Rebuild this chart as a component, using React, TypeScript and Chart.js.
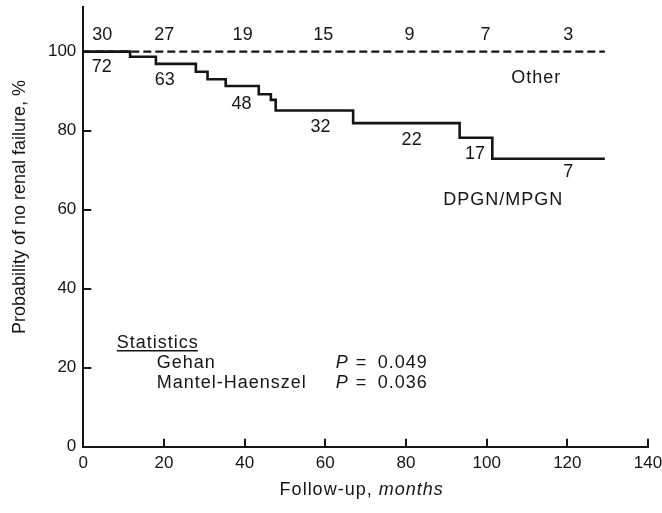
import React, { useEffect, useRef } from 'react';
import { Chart, registerables } from 'chart.js';

Chart.register(...registerables);

// Kaplan-Meier step curve for DPGN/MPGN (months, % without renal failure)
const dpgnMonths = [0, 11.6, 18.0, 27.9, 30.8, 35.3, 43.5, 46.5, 47.7, 66.9, 93.3, 101.4, 129.3];
const dpgnSurvival = [100, 98.7, 96.9, 94.9, 93.0, 91.3, 89.2, 87.8, 85.1, 81.9, 78.2, 72.9, 72.9];

// "Other" group: no events
const otherMonths = [0, 129.3];
const otherSurvival = [100, 100];

// Numbers at risk, Other (above the dashed line)
const riskOther = ['30', '27', '19', '15', '9', '7', '3'];
const riskOtherMonths = [4.7, 20.1, 39.5, 59.5, 80.9, 99.7, 120.2];
const riskOtherLevel = [104.1, 104.1, 104.1, 104.1, 104.1, 104.1, 104.1];

// Numbers at risk, DPGN/MPGN (below the solid line)
const riskDpgn = ['72', '63', '48', '32', '22', '17', '7'];
const riskDpgnMonths = [4.6, 20.2, 39.2, 58.8, 81.4, 97.1, 120.2];
const riskDpgnLevel = [96.2, 92.8, 86.7, 80.8, 77.7, 74.1, 69.4];

// Series labels
const seriesNames = ['Other', 'DPGN/MPGN'];
const seriesNameMonths = [112.3, 104.1];
const seriesNameLevel = [93.3, 62.5];

// Statistics
const statHeading = 'Statistics';
const statTests = ['Gehan', 'Mantel-Haenszel'];
const statPValues = ['0.049', '0.036'];

const xTitleNormal = 'Follow-up, ';
const xTitleItalic = 'months';
const yTitle = 'Probability of no renal failure, %';

const X_MIN = 0;
const X_MAX = 140;
const X_STEP = 20;
const Y_MIN = 0;
const Y_MAX = 111.3;
const Y_STEP = 20;

const FONT = '"Liberation Sans", Arial, Helvetica, sans-serif';
const INK = '#151515';

const annotations = {
  id: 'annotations',
  afterDraw(chart: any) {
    const ctx = chart.ctx as CanvasRenderingContext2D;
    const xs = chart.scales.x;
    const ys = chart.scales.y;
    const area = chart.chartArea;
    ctx.save();
    ctx.fillStyle = INK;
    ctx.strokeStyle = INK;
    ctx.textBaseline = 'middle';

    // numbers at risk
    ctx.font = `18px ${FONT}`;
    ctx.textAlign = 'center';
    riskOther.forEach((t, i) => {
      ctx.fillText(t, xs.getPixelForValue(riskOtherMonths[i]), ys.getPixelForValue(riskOtherLevel[i]));
    });
    riskDpgn.forEach((t, i) => {
      ctx.fillText(t, xs.getPixelForValue(riskDpgnMonths[i]), ys.getPixelForValue(riskDpgnLevel[i]));
    });

    // series names
    (ctx as any).letterSpacing = '1px';
    seriesNames.forEach((t, i) => {
      ctx.fillText(t, xs.getPixelForValue(seriesNameMonths[i]), ys.getPixelForValue(seriesNameLevel[i]));
    });

    // statistics block
    ctx.textAlign = 'left';
    const hx = xs.getPixelForValue(8.3);
    const hy = ys.getPixelForValue(26.3);
    ctx.fillText(statHeading, hx, hy);
    const hw = ctx.measureText(statHeading).width;
    ctx.lineWidth = 1.5;
    ctx.beginPath();
    ctx.moveTo(hx, hy + 8);
    ctx.lineTo(hx + hw - 1, hy + 8);
    ctx.stroke();
    const statLevels = [21.1, 16.1];
    statTests.forEach((t, i) => {
      const yy = ys.getPixelForValue(statLevels[i]);
      ctx.font = `18px ${FONT}`;
      ctx.fillText(t, xs.getPixelForValue(18.2), yy);
      const px = xs.getPixelForValue(62.6);
      ctx.font = `italic 18px ${FONT}`;
      ctx.fillText('P', px, yy);
      ctx.font = `18px ${FONT}`;
      ctx.fillText('=', px + 20, yy);
      ctx.fillText(statPValues[i], px + 42, yy);
    });

    // x title
    ctx.font = `18px ${FONT}`;
    const w1 = ctx.measureText(xTitleNormal).width;
    ctx.font = `italic 18px ${FONT}`;
    const w2 = ctx.measureText(xTitleItalic).width;
    const cx = (area.left + area.right) / 2 - 4;
    const sx = cx - (w1 + w2) / 2;
    ctx.font = `18px ${FONT}`;
    ctx.fillText(xTitleNormal, sx, 490);
    ctx.font = `italic 18px ${FONT}`;
    ctx.fillText(xTitleItalic, sx + w1, 490);

    // y title
    ctx.font = `18px ${FONT}`;
    (ctx as any).letterSpacing = '0px';
    ctx.textAlign = 'center';
    ctx.textBaseline = 'alphabetic';
    ctx.translate(25, 207);
    ctx.rotate(-Math.PI / 2);
    ctx.fillText(yTitle, 0, 0);
    ctx.restore();
  },
};

export default function App() {
  const ref = useRef<HTMLCanvasElement | null>(null);

  useEffect(() => {
    if (!ref.current) return;
    const chart = new Chart(ref.current, {
      type: 'line',
      data: {
        datasets: [
          {
            label: 'Other',
            data: otherMonths.map((m, i) => ({ x: m, y: otherSurvival[i] })),
            borderColor: INK,
            borderWidth: 2.4,
            borderDash: [8, 4],
            pointRadius: 0,
            fill: false,
          },
          {
            label: 'DPGN/MPGN',
            data: dpgnMonths.map((m, i) => ({ x: m, y: dpgnSurvival[i] })),
            borderColor: INK,
            borderWidth: 2.6,
            stepped: true,
            pointRadius: 0,
            fill: false,
          },
        ],
      },
      options: {
        animation: false,
        responsive: false,
        maintainAspectRatio: false,
        layout: { padding: { top: 7, right: 14, left: 0, bottom: 0 } },
        plugins: { legend: { display: false }, tooltip: { enabled: false }, title: { display: false } },
        scales: {
          x: {
            type: 'linear',
            min: X_MIN,
            max: X_MAX,
            ticks: {
              stepSize: X_STEP,
              padding: 14,
              color: INK,
              maxRotation: 0,
              includeBounds: false,
              font: { family: FONT, size: 17 },
            },
            grid: { drawOnChartArea: false, drawTicks: true, tickLength: -8, color: INK, lineWidth: 2 },
            border: { display: true, color: INK, width: 2 },
            afterFit: (s: any) => {
              s.height = 66.3;
              s.paddingLeft = 0;
              s.paddingRight = 0;
            },
          },
          y: {
            type: 'linear',
            min: Y_MIN,
            max: Y_MAX,
            ticks: {
              stepSize: Y_STEP,
              padding: 15,
              color: INK,
              includeBounds: false,
              font: { family: FONT, size: 17 },
            },
            grid: { drawOnChartArea: false, drawTicks: true, tickLength: -8, color: INK, lineWidth: 2 },
            border: { display: true, color: INK, width: 2 },
            afterFit: (s: any) => {
              s.width = 83.3;
              s.paddingTop = 0;
              s.paddingBottom = 0;
            },
          },
        },
      },
      plugins: [annotations],
    });
    return () => chart.destroy();
  }, []);

  return (
    <div style={{ position: 'fixed', left: 0, top: 0, width: 662, height: 513, background: '#fff' }}>
      <canvas ref={ref} width={662} height={513} style={{ width: 662, height: 513, display: 'block' }} />
    </div>
  );
}
